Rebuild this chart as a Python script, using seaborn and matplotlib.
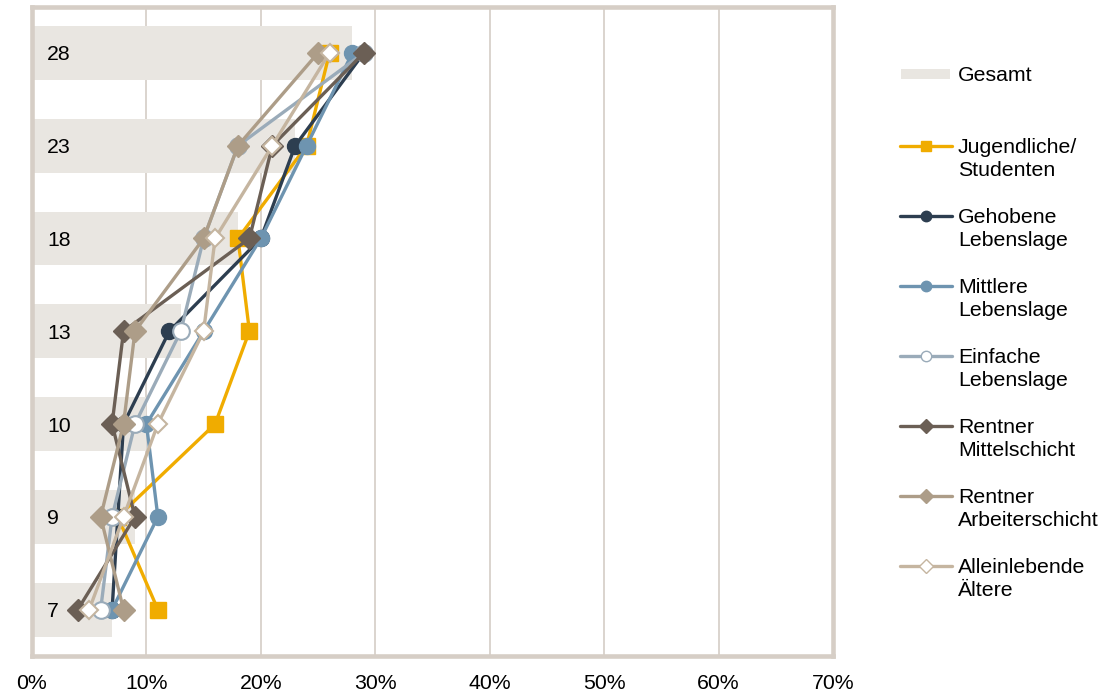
import matplotlib.pyplot as plt
import seaborn as sns
import pandas as pd
import numpy as np
from matplotlib.lines import Line2D
from matplotlib.patches import Rectangle
from matplotlib.ticker import PercentFormatter

# Data (values in %)
categories = ["28", "23", "18", "13", "10", "9", "7"]
gesamt = [28, 23, 18, 13, 10, 9, 7]

series_names = [
    "Jugendliche/\nStudenten",
    "Gehobene\nLebenslage",
    "Mittlere\nLebenslage",
    "Einfache\nLebenslage",
    "Rentner\nMittelschicht",
    "Rentner\nArbeiterschicht",
    "Alleinlebende\nÄltere",
]
jugendliche = [26, 24, 18, 19, 16, 7.5, 11]
gehobene = [29, 23, 20, 12, 8, 7.5, 7]
mittlere = [28, 24, 20, 15, 10, 11, 7]
einfache = [29, 18, 15, 13, 9, 7, 6]
rentner_mittel = [29, 21, 19, 8, 7, 9, 4]
rentner_arbeiter = [25, 18, 15, 9, 8, 6, 8]
alleinlebende = [26, 21, 16, 15, 11, 8, 5]
series_values = [jugendliche, gehobene, mittlere, einfache,
                 rentner_mittel, rentner_arbeiter, alleinlebende]

# Styles
bar_color = "#e9e6e1"
frame_color = "#d6cec6"
grid_color = "#d8d1ca"
line_colors = ["#f0ac00", "#2d3e50", "#6e94b0", "#9aabb9", "#6b5f55", "#ad9d88", "#c5b5a0"]
markers = ["s", "o", "o", "o", "D", "D", "D"]
marker_sizes = [11, 11.5, 11.5, 12, 11, 11, 9.5]
marker_faces = [None, None, None, "white", None, None, "white"]

sns.set_style("white")
plt.rcParams['font.family'] = ['Liberation Sans', 'DejaVu Sans']
plt.rcParams['text.color'] = 'black'
font_size = 15.3

fig = plt.figure(figsize=(11.07, 6.93), dpi=100)
ax = fig.add_axes([0.0289, 0.0534, 0.7236, 0.9372])

bar_df = pd.DataFrame({"Kategorie": categories, "Gesamt": gesamt})
sns.barplot(data=bar_df, x="Gesamt", y="Kategorie", order=categories, orient="h",
            color=bar_color, width=0.58, saturation=1, linewidth=0, ax=ax, zorder=1)

pos = np.arange(len(categories))
for i, (name, vals) in enumerate(zip(series_names, series_values)):
    face = marker_faces[i] if marker_faces[i] else line_colors[i]
    ax.plot(vals, pos, color=line_colors[i], lw=2.4, marker=markers[i],
            markersize=marker_sizes[i], markerfacecolor=face,
            markeredgecolor=line_colors[i], markeredgewidth=1.5 if marker_faces[i] else 1,
            zorder=3 + i)

# category labels inside the bars
for p, cat in zip(pos, categories):
    ax.text(0.019, p, cat, transform=ax.get_yaxis_transform(), fontsize=font_size,
            va='center_baseline', ha='left', color='black', zorder=20)

ax.set_xlim(0, 70)
ax.set_ylim(len(categories) - 0.5, -0.5)
ax.set_xticks(range(0, 71, 10))
ax.set_yticks([])
ax.xaxis.set_major_formatter(PercentFormatter(100, decimals=0))
ax.grid(axis='x', color=grid_color, lw=1.3)
ax.grid(axis='y', visible=False)
ax.set_axisbelow(True)
ax.set_xlabel("")
ax.set_ylabel("")

for s in ax.spines.values():
    s.set_visible(True)
    s.set_color(frame_color)
    s.set_linewidth(3.3)

ax.tick_params(axis='x', length=0, pad=13, labelsize=font_size, labelcolor='black')

# Legend drawn on the right side
W, H = 1107, 693
def fx(px):
    return px / W
def fy(py):
    return 1 - py / H

x0, x1, xt = 900, 952, 958
fig.add_artist(Rectangle((fx(901), fy(79)), fx(950) - fx(901), fy(69) - fy(79),
                         transform=fig.transFigure, color=bar_color, lw=0))
fig.text(fx(xt), fy(75.5), "Gesamt", fontsize=font_size, va='center', ha='left')

y_start, y_step = 146, 70
for i, name in enumerate(series_names):
    yc = y_start + i * y_step
    face = marker_faces[i] if marker_faces[i] else line_colors[i]
    fig.add_artist(Line2D([fx(x0), fx(x1)], [fy(yc), fy(yc)], transform=fig.transFigure,
                          color=line_colors[i], lw=2.4))
    fig.add_artist(Line2D([fx((x0 + x1) / 2)], [fy(yc)], transform=fig.transFigure,
                          marker=markers[i], markersize=7.5, color=line_colors[i],
                          markerfacecolor=face, markeredgecolor=line_colors[i], lw=0))
    fig.text(fx(xt), fy(yc - 8), name, fontsize=font_size, va='top', ha='left',
             linespacing=1.28)

plt.savefig('out.png', dpi=100)
